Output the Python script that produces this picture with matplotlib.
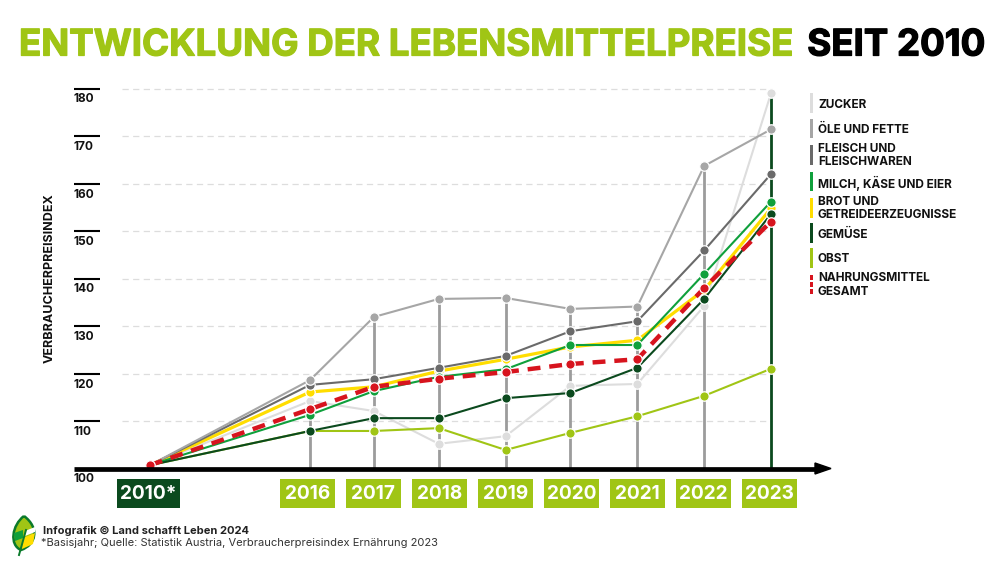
#!/usr/bin/env python3
"""Entwicklung der Lebensmittelpreise seit 2010."""

import matplotlib
matplotlib.use("Agg")
import matplotlib.pyplot as plt
import matplotlib.patheffects as pe
from matplotlib.patches import PathPatch, Polygon, Rectangle
from matplotlib.path import Path
from matplotlib.transforms import Affine2D

plt.rcParams["font.family"] = ["Inter", "DejaVu Sans"]

YEARS = ["2010*", "2016", "2017", "2018", "2019", "2020", "2021", "2022", "2023"]
Y_TICKS = [100, 110, 120, 130, 140, 150, 160, 170, 180]

ZUCKER = [100.7, 114.2, 112.1, 105.2, 106.8, 117.4, 117.8, 134.2, 179.0]
OELE = [100.7, 118.6, 131.9, 135.7, 135.9, 133.6, 134.1, 163.7, 171.4]
FLEISCH = [100.7, 117.6, 118.8, 121.2, 123.7, 128.9, 131.0, 145.9, 162.0]
MILCH = [100.7, 111.3, 116.3, 119.3, 120.9, 126.0, 126.0, 141.0, 156.2]
BROT = [100.7, 116.1, 117.2, 120.5, 123.0, 125.6, 127.0, 137.6, 154.8]
GEMUESE = [100.7, 107.9, 110.6, 110.6, 114.8, 115.9, 121.2, 135.7, 153.6]
OBST = [100.7, 107.9, 107.9, 108.5, 103.9, 107.5, 111.0, 115.3, 121.0]
GESAMT = [100.7, 112.5, 117.2, 118.9, 120.3, 122.0, 123.0, 138.0, 152.0]

C_ZUCKER = "#DDDDDD"
C_OELE = "#A6A6A6"
C_FLEISCH = "#6A6A6A"
C_MILCH = "#0FA03C"
C_BROT = "#FFDD00"
C_GEMUESE = "#0B4A1E"
C_OBST = "#A0C515"
C_GESAMT = "#D7141E"

# draw order, bottom to top
SERIES = [
    (ZUCKER, C_ZUCKER, 1.5),
    (OBST, C_OBST, 1.5),
    (BROT, C_BROT, 2.3),
    (FLEISCH, C_FLEISCH, 1.5),
    (OELE, C_OELE, 1.5),
    (MILCH, C_MILCH, 1.5),
    (GEMUESE, C_GEMUESE, 1.5),
]

LEGEND = [
    ("ZUCKER", C_ZUCKER, 93, 113),
    ("ÖLE UND FETTE", C_OELE, 119, 138),
    ("FLEISCH UND\nFLEISCHWAREN", C_FLEISCH, 145, 165),
    ("MILCH, KÄSE UND EIER", C_MILCH, 172, 191),
    ("BROT UND\nGETREIDEERZEUGNISSE", C_BROT, 198, 218),
    ("GEMÜSE", C_GEMUESE, 223, 243),
    ("OBST", C_OBST, 248, 268),
    ("NAHRUNGSMITTEL\nGESAMT", C_GESAMT, 275, 294),
]

W, H = 1000, 571
X0, SLOT = 310.0, 65.86    # pixel of 2016, pixels per year
Y100, UNIT = 468.5, 4.75   # pixel of index 100, pixels per index point
XPOS = [-2.43, 0, 0.97, 1.955, 2.97, 3.955, 4.97, 5.985, 7]


def main() -> None:
    fig = plt.figure(figsize=(W / 100, H / 100), dpi=100, facecolor="white")
    ax = fig.add_axes([0, 0, 1, 1])
    ax.set_xlim(-X0 / SLOT, (W - X0) / SLOT)
    ax.set_ylim(100 - (H - Y100) / UNIT, 100 + Y100 / UNIT)
    ax.axis("off")

    # overlay in image pixels for everything that is not data
    px = Affine2D().scale(1, -1).translate(0, H)

    # gridlines and tick marks
    for v in Y_TICKS[1:]:
        ax.plot([122, 772], [Y100 - (v - 100) * UNIT] * 2, transform=px,
                color="#DDDDDD", lw=0.9, ls=(0, (5, 3.5)), zorder=1)
        ax.plot([74, 100], [Y100 - (v - 100) * UNIT] * 2, transform=px,
                color="black", lw=1.5, zorder=2, solid_capstyle="butt")
    for v in Y_TICKS:
        ax.text(74, Y100 - (v - 100) * UNIT + 11, str(v), transform=px, fontsize=8.6,
                fontweight="bold", ha="left", va="center", color="#111111")
    ax.text(50, 278.5, "VERBRAUCHERPREISINDEX", transform=px, rotation=90, fontsize=9.0,
            fontweight="bold", ha="center", va="center", color="#111111")

    # vertical drop lines
    tops = [max(s[0][i] for s in SERIES) for i in range(len(YEARS))]
    for i in range(1, len(YEARS)):
        last = i == len(YEARS) - 1
        ax.plot([XPOS[i], XPOS[i]], [100, tops[i]],
                color=C_GEMUESE if last else "#9C9C9C", lw=2.0, zorder=2,
                solid_capstyle="butt")

    for values, color, lw in SERIES:
        ax.plot(XPOS, values, color=color, lw=lw, zorder=3, marker="o", ms=6.8,
                mfc=color, mec="white", mew=0.9, solid_capstyle="round")
    ax.plot(XPOS, GESAMT, color=C_GESAMT, lw=3.2, ls=(0, (2.9, 2.0)), zorder=4)
    ax.plot(XPOS, GESAMT, ls="none", zorder=5, marker="o", ms=6.8,
            mfc=C_GESAMT, mec="white", mew=0.9)

    # x axis with arrow head
    ax.plot([74, 816], [468.5, 468.5], transform=px, color="black", lw=3.4, zorder=6,
            solid_capstyle="butt")
    ax.add_patch(Polygon([(815, 463), (831, 468.5), (815, 474)], transform=px,
                         color="black", zorder=6))

    # year boxes
    for i, year in enumerate(YEARS):
        first = i == 0
        cx = 148.5 if first else 307.5 + 66 * (i - 1)
        bw = 63 if first else 55
        ax.add_patch(Rectangle((cx - bw / 2, 479), bw, 29, transform=px, zorder=6,
                               color=C_GEMUESE if first else C_OBST, lw=0))
        ax.text(cx, 494, year, transform=px, color="white", fontsize=13.7,
                fontweight="bold", ha="center", va="center", zorder=7)

    # legend
    for label, color, y0, y1 in LEGEND:
        if color == C_GESAMT:
            for y in (275, 282, 289):
                ax.add_patch(Rectangle((809.5, y), 3.5, 4.5, transform=px, color=color, lw=0))
        else:
            ax.add_patch(Rectangle((809.5, y0), 3.5, y1 - y0, transform=px, color=color, lw=0))
        shift = 0.5 if "\n" in label else 1.5
        ax.text(818, (y0 + y1) / 2 + shift, label, transform=px, fontsize=8.5, fontweight="bold",
                ha="left", va="center", linespacing=1.15, color="#111111")

    # title in two colours
    ax.text(19, 46, "ENTWICKLUNG DER LEBENSMITTELPREISE", transform=px, fontsize=26.4,
            fontweight="bold", color=C_OBST, ha="left", va="center",
            path_effects=[pe.withStroke(linewidth=0.9, foreground=C_OBST)])
    ax.text(985, 46, "SEIT 2010", transform=px, fontsize=26.4, fontweight="bold",
            color="black", ha="right", va="center",
            path_effects=[pe.withStroke(linewidth=0.9, foreground="black")])

    # footer
    ax.text(43, 530.5, "Infografik © Land schafft Leben 2024", transform=px, fontsize=8.0,
            fontweight="bold", ha="left", va="center", color="#222222")
    ax.text(41, 542.5, "*Basisjahr; Quelle: Statistik Austria, Verbraucherpreisindex Ernährung 2023",
            transform=px, fontsize=8.0, ha="left", va="center", color="#333333")

    # leaf logo
    leaf = Path([(24, 516), (12, 525), (9, 545), (21, 550), (36, 545), (40, 528), (24, 516)],
                [Path.MOVETO, Path.CURVE4, Path.CURVE4, Path.CURVE4, Path.CURVE4, Path.CURVE4,
                 Path.CURVE4])
    ax.add_patch(PathPatch(leaf, transform=px, fc="#A0C515", ec="#0B7A2B", lw=1.8, zorder=6))
    ax.add_patch(Polygon([(23, 538), (35, 533), (33, 544), (22, 549)], transform=px,
                         color="#FFDD00", lw=0, zorder=7))
    ax.add_patch(Polygon([(14, 533), (23, 530), (23, 538), (15, 541)], transform=px,
                         color="#0FA03C", lw=0, zorder=7))
    ax.add_patch(Polygon([(25, 531), (35, 527), (35, 532), (25, 536)], transform=px,
                         color="white", lw=0, zorder=7))
    ax.plot([26, 19], [530, 555], transform=px, color="#0B7A2B", lw=1.4, zorder=8)

    fig.savefig("out.png", dpi=100)


if __name__ == "__main__":
    main()
